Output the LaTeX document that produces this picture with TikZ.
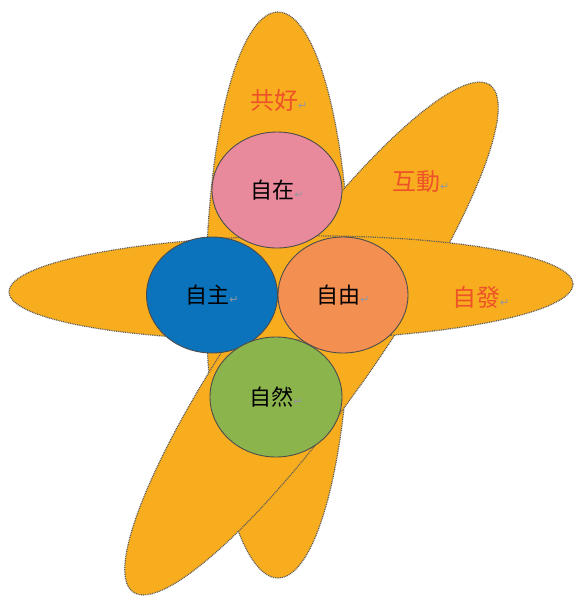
\documentclass[tikz,border=0pt]{standalone}
\usepackage{fontspec}
\newfontfamily\cjk{Noto Sans CJK TC}
\newfontfamily\symfont{DejaVu Sans}
\usepackage{tikz}
\usetikzlibrary{shapes.geometric}

\definecolor{petalfill}{RGB}{248,173,31}
\definecolor{corepink}{RGB}{232,137,156}
\definecolor{coreblue}{RGB}{10,115,187}
\definecolor{coreorange}{RGB}{244,143,82}
\definecolor{coregreen}{RGB}{140,180,76}
\definecolor{labelred}{RGB}{238,82,40}
\definecolor{retgray}{RGB}{150,150,160}

\newcommand{\retmark}{{\symfont\fontsize{11}{11}\selectfont\textcolor{retgray}{↵}}}

\tikzset{
    petal/.style={ellipse, draw=black!65, dash pattern=on 0.9pt off 0.9pt, line width=1.2pt, fill=petalfill, inner sep=0pt},
    core/.style={ellipse, draw=black!70, line width=0.9pt, inner sep=0pt,
        minimum width=130pt, minimum height=116pt, font={\cjk\fontsize{22}{26}\selectfont}},
    outer/.style={inner sep=0pt, anchor=west, text=labelred, font={\cjk\fontsize{24}{28}\selectfont}}
}

\begin{document}
\begin{tikzpicture}[x=1pt,y=-1pt]
    \useasboundingbox (0,0) rectangle (574,598);

    % Petals
    \node[petal, minimum width=144pt, minimum height=566pt] (petalV) at (278,295) {};
    \node[petal, minimum width=620pt, minimum height=134pt, rotate=54.85] (petalD) at (311.5,338.5) {};
    \node[petal, minimum width=564pt, minimum height=104pt, rotate=0.8] (petalH) at (291,288) {};

    % Circles
    \node[core, fill=corepink] (zizai) at (277,190) {自在\retmark};
    \node[core, fill=coreblue, minimum width=131pt] (zizhu) at (212,295) {自主\retmark};
    \node[core, fill=coreorange] (ziyou) at (343,295) {自由\retmark};
    \node[core, fill=coregreen, minimum width=132pt, minimum height=120pt] (ziran) at (276,397) {自然\retmark};

    % Outer labels
    \node[outer] (gonghao) at (250,100) {共好\retmark};
    \node[outer] (hudong) at (392,182) {互動\retmark};
    \node[outer] (zifa) at (452,297) {自發\retmark};
\end{tikzpicture}
\end{document}
